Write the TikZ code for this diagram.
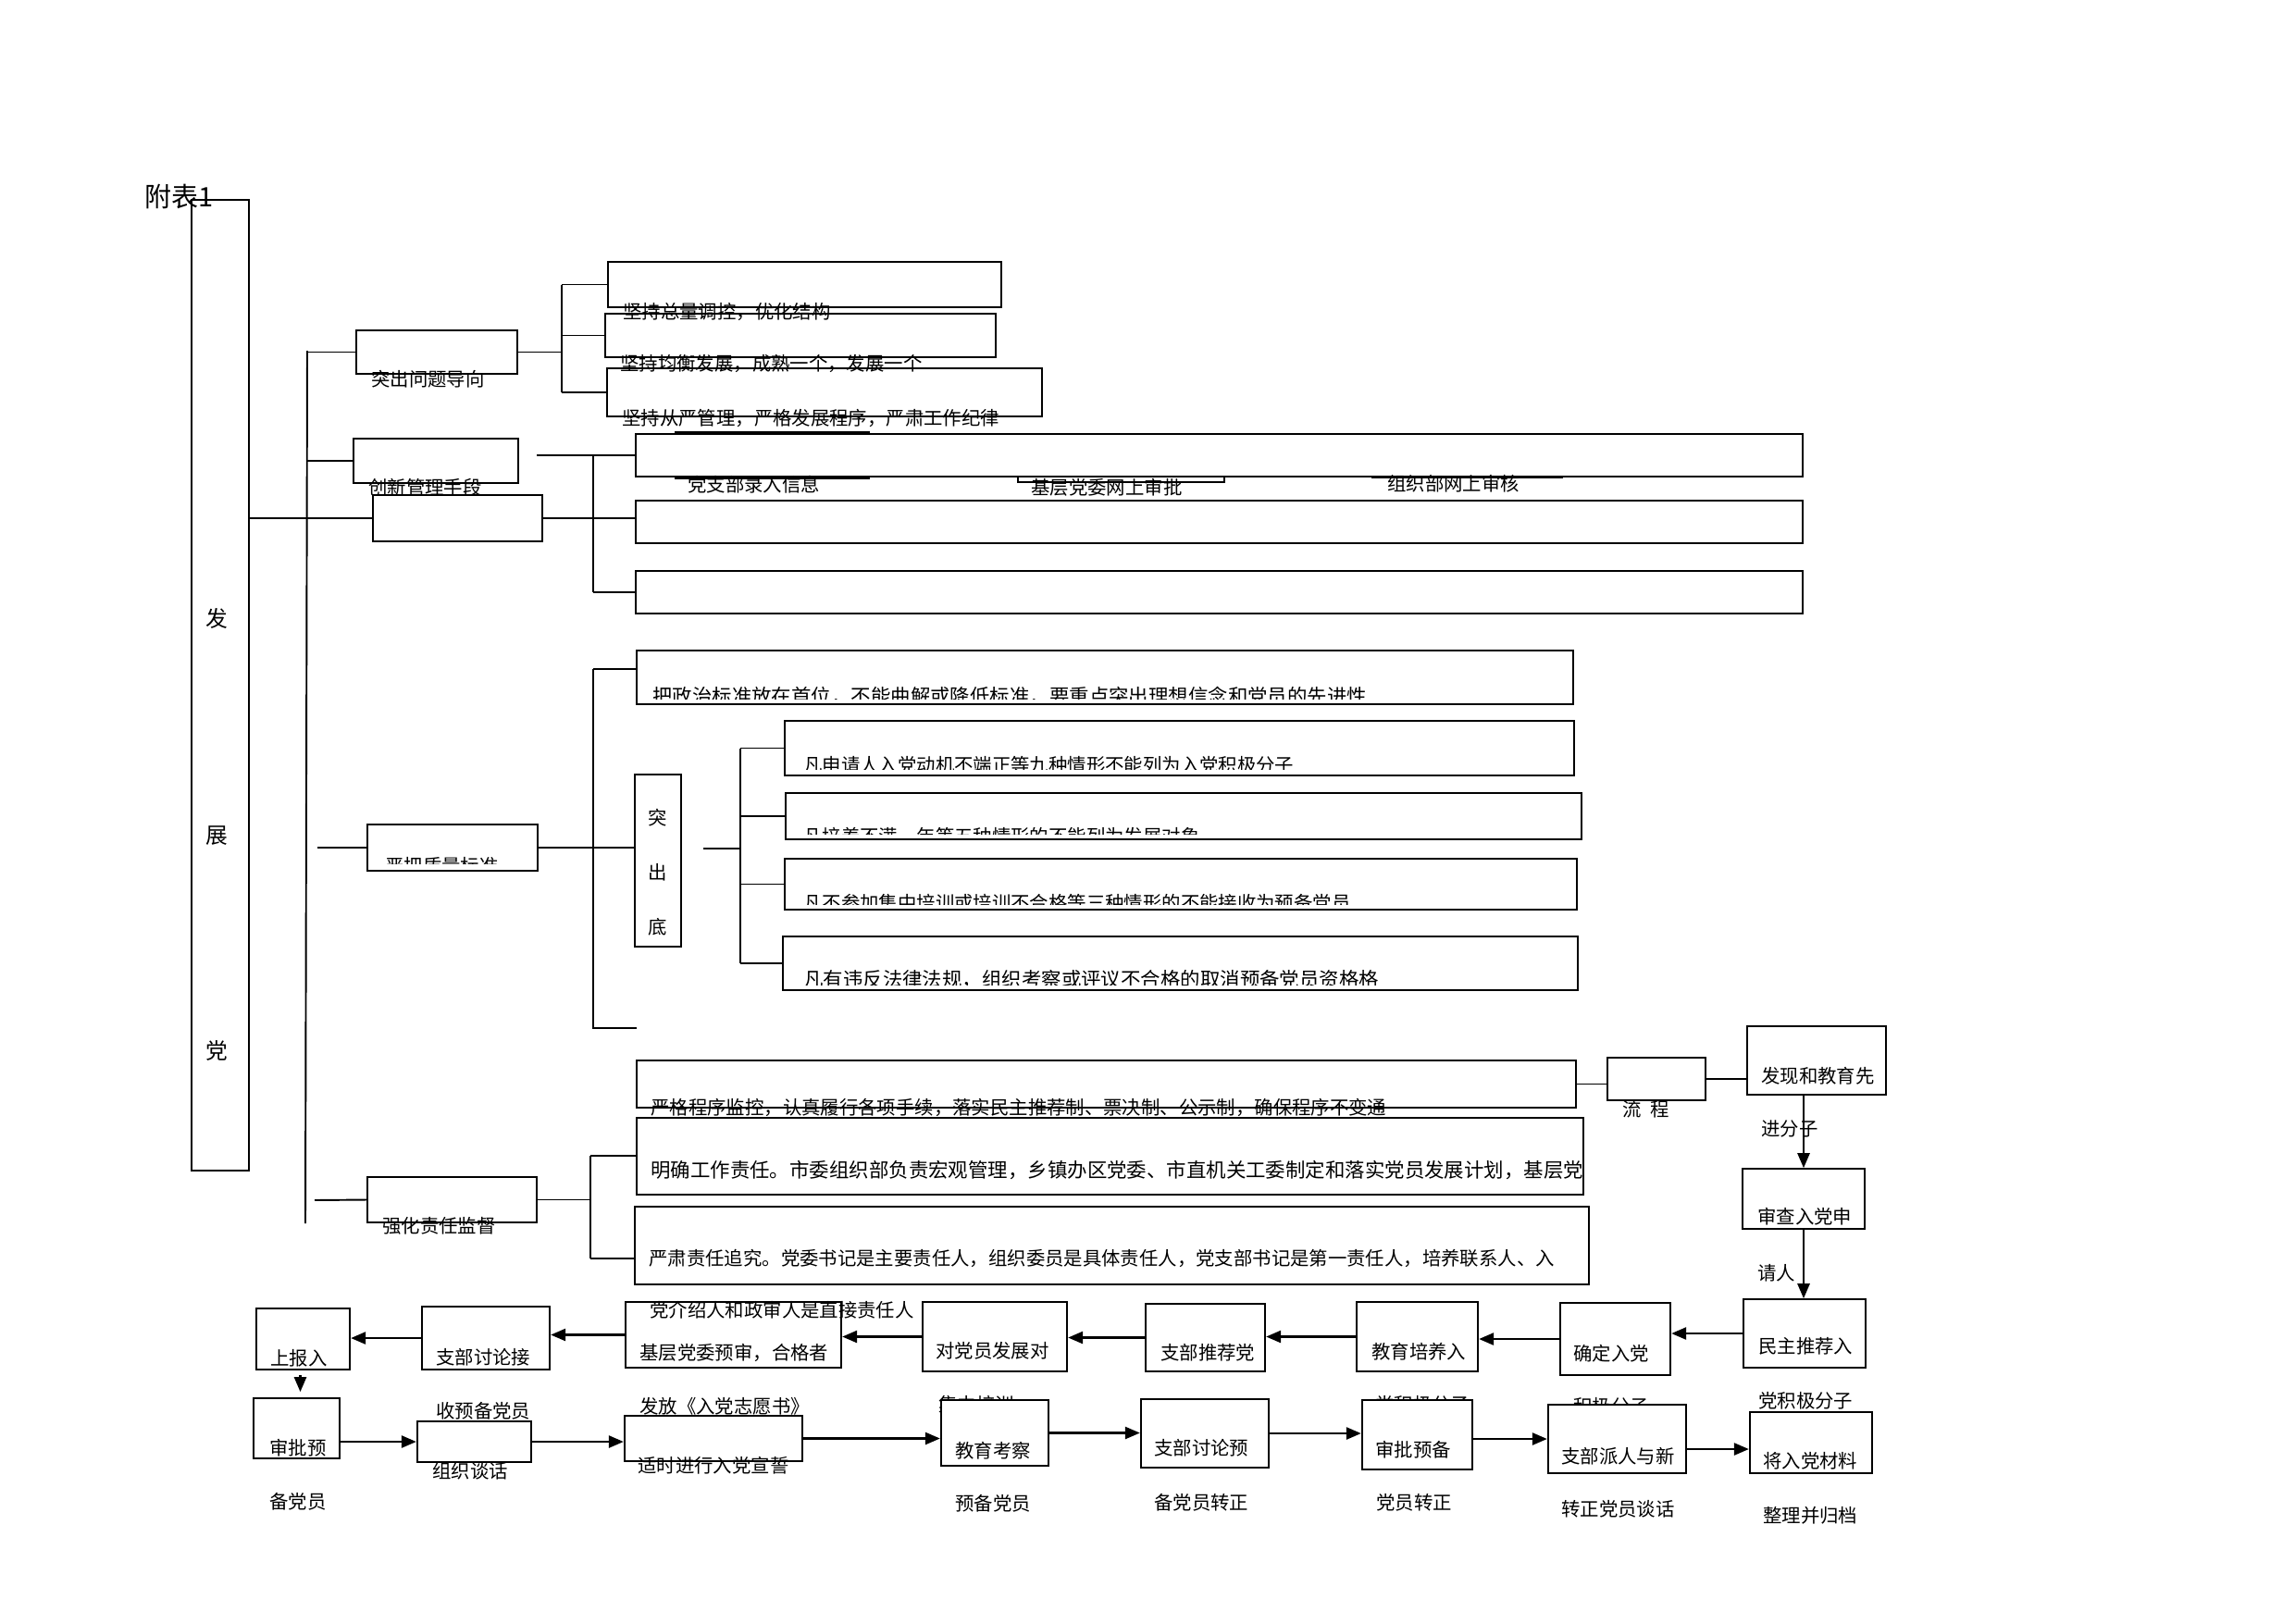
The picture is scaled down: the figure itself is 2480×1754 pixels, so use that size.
\documentclass[tikz,border=0pt]{standalone}
\usepackage{fontspec}
\setmainfont{Noto Sans CJK SC}
\usetikzlibrary{arrows.meta,fit,calc}

\begin{document}
\begin{tikzpicture}[x=0.2mm,y=-0.2mm,
    box/.style={draw,line width=1.3pt,inner sep=0pt,fill=white},
    thinbox/.style={box,line width=0.9pt},
    txt/.style={inner sep=0pt,anchor=west,font=\fontsize{11.6}{13}\selectfont},
    bigtxt/.style={txt,font=\fontsize{12.2}{14}\selectfont},
    ln/.style={line width=1.1pt},
    arr/.style={line width=1.4pt,-{Triangle[length=3.2mm,width=2.6mm]}}]

\useasboundingbox (0,0) rectangle (2480,1754);

            % Main box
            \node[box,fit={(207,216) (269,1265)}] (fazhan) {};
            \node[align=center,inner sep=0pt,font=\fontsize{13.5}{133}\selectfont] (tfazhan) at (234,902) {发\\展\\党};
            \node[txt,font=\fontsize{16.5}{18}\selectfont] (title) at (156,212) {附表1};

            % Trunk and headings
            \coordinate (trunktop) at (332,379);
            \coordinate (trunkbot) at (330,1322);
            \draw[ln] (trunktop) -- (trunkbot);
            \node[box,fit={(385,357) (559,404)}] (tuchu) {};
            \node[box,fit={(382,474) (560,522)}] (chuangxin) {};
            \node[box,fit={(403,535) (586,585)}] (jizhi) {};
            \node[box,fit={(397,891) (581,941)}] (yanba) {};
            \node[box,fit={(397,1272) (580,1321)}] (qianghua) {};
            \draw[ln] (tuchu.west -| trunktop) -- (tuchu.west);
            \draw[ln] (chuangxin.west -| trunktop) -- (chuangxin.west);
            \draw[ln] (fazhan.east |- jizhi.west) -- (jizhi.west);
            \coordinate (yanbain) at (343,916);
            \draw[ln] (yanbain) -- (yanba.west);
            \coordinate (qianghuain) at (340,1297);
            \draw[ln] (qianghuain) -- (qianghua.west);

            % Group 1
            \node[box,fit={(657,283) (1082,332)}] (jian1) {};
            \node[box,fit={(654,339) (1076,386)}] (jian2) {};
            \node[thinbox,fit={(656,398) (1126,450)}] (jian3) {};
            \coordinate (br1) at (607,377);
            \draw[ln] (tuchu.east) -- (tuchu.east -| br1);
            \draw[ln] (jian1.west -| br1) -- (jian3.west -| br1);
            \draw[ln] (jian1.west -| br1) -- (jian1.west);
            \draw[ln] (jian2.west -| br1) -- (jian2.west);
            \draw[ln] (jian3.west -| br1) -- (jian3.west);

            % Group 2
            \node[thinbox,fit={(730,467) (939,517)}] (luru) {};
            \node[thinbox,fit={(1100,470) (1323,521)}] (shenpi) {};
            \node[box,fit={(1483,470) (1688,516)}] (shenhe) {};
            \node[box,fit={(687,469) (1948,515)}] (wang1) {};
            \node[box,fit={(687,541) (1948,587)}] (wang2) {};
            \node[box,fit={(687,617) (1948,663)}] (wang3) {};
            \coordinate (br2) at (641,492);
            \coordinate (chuangxinout) at (580,492);
            \draw[ln] (chuangxinout) -- (wang1.west);
            \draw[ln] (wang1.west -| br2) -- (wang3.west -| br2);
            \draw[ln] (wang3.west -| br2) -- (wang3.west);
            \draw[ln] (jizhi.east) -- (jizhi.east -| wang2.west);

            % Group 3
            \node[thinbox,fit={(688,703) (1700,761)}] (zhengzhi) {};
            \node[thinbox,fit={(686,837) (736,1023)}] (tudi) {};
            \node[box,fit={(848,779) (1701,838)}] (fan1) {};
            \node[box,fit={(849,857) (1709,907)}] (fan2) {};
            \node[box,fit={(848,928) (1704,983)}] (fan3) {};
            \node[thinbox,fit={(846,1012) (1705,1070)}] (fan4) {};
            \coordinate (br3top) at (641,723);
            \coordinate (br3bot) at (641,1111);
            \coordinate (br3end) at (688,1111);
            \draw[ln] (br3top) -- (br3bot) -- (br3end);
            \draw[ln] (br3top) -- (br3top -| zhengzhi.west);
            \draw[ln] (yanba.east) -- (yanba.east -| tudi.west);
            \coordinate (tudiout) at (760,917);
            \coordinate (br4) at (800,917);
            \draw[ln] (tudiout) -- (br4);
            \draw[ln] (fan1.west -| br4) -- (fan4.west -| br4);
            \draw[ln] (fan1.west -| br4) -- (fan1.west);
            \draw[ln] (fan2.west -| br4) -- (fan2.west);
            \draw[ln] (fan3.west -| br4) -- (fan3.west);
            \draw[ln] (fan4.west -| br4) -- (fan4.west);

            % Group 4
            \node[box,fit={(688,1146) (1703,1197)}] (yange) {};
            \node[box,fit={(1737,1143) (1843,1189)}] (liucheng) {};
            \node[box,fit={(1888,1109) (2038,1183)}] (faxian) {};
            \node[thinbox,fit={(1883,1263) (2015,1328)}] (shencha) {};
            \node[thinbox,fit={(1884,1404) (2016,1478)}] (minzhu) {};
            \draw[ln] (yange.east) -- (yange.east -| liucheng.west);
            \draw[ln] (liucheng.east) -- (liucheng.east -| faxian.west);
            \draw[arr] (faxian.south -| shencha.north) -- (shencha.north);
            \draw[arr] (shencha.south) -- (shencha.south |- minzhu.north);

            % Group 5
            \node[box,fit={(688,1208) (1711,1291)}] (mingque) {};
            \node[box,fit={(686,1304) (1717,1388)}] (yansu) {};
            \coordinate (br5top) at (638,1249);
            \coordinate (br5bot) at (638,1360);
            \draw[ln] (qianghua.east) -- (qianghua.east -| br5top);
            \draw[ln] (br5top) -- (br5bot);
            \draw[ln] (br5top) -- (br5top -| mingque.west);
            \draw[ln] (br5bot) -- (br5bot -| yansu.west);

            % Flow, upper row
            \node[box,fit={(277,1414) (378,1480)}] (shangbao) {};
            \node[box,fit={(456,1412) (594,1480)}] (taolunjie) {};
            \node[box,fit={(676,1407) (909,1478)}] (yushen) {};
            \node[box,fit={(997,1407) (1153,1482)}] (duixiang) {};
            \node[box,fit={(1238,1409) (1367,1482)}] (tuijian) {};
            \node[box,fit={(1466,1407) (1597,1482)}] (peiyang) {};
            \node[box,fit={(1686,1408) (1805,1486)}] (queding) {};
            \draw[arr] (minzhu.west) -- (minzhu.west -| queding.east);
            \draw[arr] (queding.west) -- (queding.west -| peiyang.east);
            \draw[arr] (peiyang.west) -- (peiyang.west -| tuijian.east);
            \draw[arr] (tuijian.west) -- (tuijian.west -| duixiang.east);
            \draw[arr] (duixiang.west) -- (duixiang.west -| yushen.east);
            \draw[arr] (yushen.west) -- (yushen.west -| taolunjie.east);
            \draw[arr] (taolunjie.west) -- (taolunjie.west -| shangbao.east);

            % text hidden under the lower row
            \node[txt] (tjizhong) at (1014,1518) {集中培训};
            \node[txt] (tjiji2) at (1486,1518) {党积极分子};
            \node[txt] (tjiji3) at (1700,1520) {积极分子};

            % Flow, lower row
            \node[box,fit={(274,1511) (367,1576)}] (shenpiyu) {};
            \node[box,fit={(451,1536) (574,1580)}] (tanhua) {};
            \node[box,fit={(675,1530) (867,1579)}] (xuanshi) {};
            \node[box,fit={(1017,1513) (1133,1584)}] (kaocha) {};
            \node[box,fit={(1233,1512) (1371,1586)}] (taolunyu) {};
            \node[box,fit={(1472,1513) (1591,1588)}] (shenpibei) {};
            \node[box,fit={(1673,1518) (1822,1592)}] (tanhuaxin) {};
            \node[box,fit={(1891,1526) (2023,1592)}] (guidang) {};
            \draw[arr] ($(shangbao.south)+(-3,5)$) -- ++(0,18);
            \draw[arr] (shenpiyu.east |- tanhua.west) -- (tanhua.west);
            \draw[arr] (tanhua.east) -- (tanhua.east -| xuanshi.west);
            \draw[arr] (xuanshi.east) -- (xuanshi.east -| kaocha.west);
            \draw[arr] (kaocha.east) -- (kaocha.east -| taolunyu.west);
            \draw[arr] (taolunyu.east) -- (taolunyu.east -| shenpibei.west);
            \draw[arr] (shenpibei.east |- tanhuaxin.west) -- (tanhuaxin.west);
            \draw[arr] ($(tanhuaxin.east)+(0,11)$) -- ($(guidang.west)+(0,7)$);

            % Texts
            \node[txt] (ttuchu) at (401,410) {突出问题导向};
            \node[txt] (tchuangxin) at (398,527) {创新管理手段};
            \node[txt] (tqianghua) at (413,1325) {强化责任监督};
            \node[txt] (tjian1) at (673,337) {坚持总量调控，优化结构};
            \node[txt] (tjian2) at (670,393) {坚持均衡发展，成熟一个，发展一个};
            \node[txt] (tjian3) at (672,452) {坚持从严管理，严格发展程序，严肃工作纪律};
            \node[txt] (tluru) at (743,524) {党支部录入信息};
            \node[txt] (tshenpi) at (1114,527) {基层党委网上审批};
            \node[txt] (tshenhe) at (1499,523) {组织部网上审核};
            \begin{scope}
              \clip (397,891) rectangle (581,933);
              \node[txt] (tyanba) at (416,936) {严把质量标准};
            \end{scope}
            \begin{scope}
              \clip (688,703) rectangle (1700,755);
              \node[bigtxt] (tzhengzhi) at (705,752) {把政治标准放在首位，不能曲解或降低标准，要重点突出理想信念和党员的先进性};
            \end{scope}
            \node[align=center,inner sep=0pt,font=\fontsize{11.6}{33.6}\selectfont] (ttudi) at (711,943) {突\\出\\底};
            \begin{scope}
              \clip (848,779) rectangle (1701,831);
              \node[txt] (tfan1) at (868,827) {凡申请人入党动机不端正等九种情形不能列为入党积极分子};
            \end{scope}
            \begin{scope}
              \clip (849,857) rectangle (1709,901);
              \node[txt] (tfan2) at (868,904) {凡培养不满一年等五种情形的不能列为发展对象};
            \end{scope}
            \begin{scope}
              \clip (848,928) rectangle (1704,977);
              \node[txt] (tfan3) at (868,976) {凡不参加集中培训或培训不合格等三种情形的不能接收为预备党员};
            \end{scope}
            \begin{scope}
              \clip (846,1012) rectangle (1705,1064);
              \node[bigtxt] (tfan4) at (868,1059) {凡有违反法律法规，组织考察或评议不合格的取消预备党员资格格};
            \end{scope}
            \node[txt] (tyange) at (703,1197) {严格程序监控，认真履行各项手续，落实民主推荐制、票决制、公示制，确保程序不变通};
            \node[txt] (tliucheng) at (1753,1199) {流\hspace{0.5em}程};
            \node[txt] (tfaxian) at (1903,1163) {发现和教育先};
            \node[txt] (tjinfenzi) at (1903,1220) {进分子};
            \node[txt] (tshencha) at (1899,1315) {审查入党申};
            \node[txt] (tqingren) at (1899,1376) {请人};
            \node[txt] (tminzhu) at (1900,1455) {民主推荐入};
            \node[txt] (tjiji) at (1900,1514) {党积极分子};
            \node[txt] (tguidang) at (1905,1579) {将入党材料};
            \node[txt] (tzhengli) at (1905,1638) {整理并归档};
            \node[bigtxt] (tmingque) at (703,1265) {明确工作责任。市委组织部负责宏观管理，乡镇办区党委、市直机关工委制定和落实党员发展计划，基层党};
            \node[txt] (tyansu) at (701,1360) {严肃责任追究。党委书记是主要责任人，组织委员是具体责任人，党支部书记是第一责任人，培养联系人、入};
            \node[txt] (tjieshao) at (702,1416) {党介绍人和政审人是直接责任人};
            \node[txt] (tshangbao) at (292,1468) {上报入};
            \node[txt] (ttaolunjie) at (471,1467) {支部讨论接};
            \node[txt] (tyushen) at (691,1462) {基层党委预审，合格者};
            \node[txt] (tduixiang) at (1011,1460) {对党员发展对};
            \node[txt] (ttuijian) at (1254,1462) {支部推荐党};
            \node[txt] (tpeiyang) at (1482,1461) {教育培养入};
            \node[txt] (tqueding) at (1700,1463) {确定入党};
            \node[txt] (tfafang) at (691,1520) {发放《入党志愿书》};
            \node[txt] (tshouyu) at (471,1525) {收预备党员};
            \node[txt] (tshenpiyu) at (291,1565) {审批预};
            \node[txt] (tbeidang) at (291,1623) {备党员};
            \node[txt] (ttanhua) at (467,1590) {组织谈话};
            \node[txt] (txuanshi) at (689,1584) {适时进行入党宣誓};
            \node[txt] (tkaocha) at (1032,1568) {教育考察};
            \node[txt] (tyubei) at (1032,1625) {预备党员};
            \node[txt] (ttaolunyu) at (1247,1565) {支部讨论预};
            \node[txt] (tzhuanzheng) at (1247,1624) {备党员转正};
            \node[txt] (tshenpibei) at (1486,1567) {审批预备};
            \node[txt] (tdangyuan) at (1487,1624) {党员转正};
            \node[txt] (ttanhuaxin) at (1687,1574) {支部派人与新};
            \node[txt] (ttanhua2) at (1687,1631) {转正党员谈话};

\end{tikzpicture}
\end{document}
